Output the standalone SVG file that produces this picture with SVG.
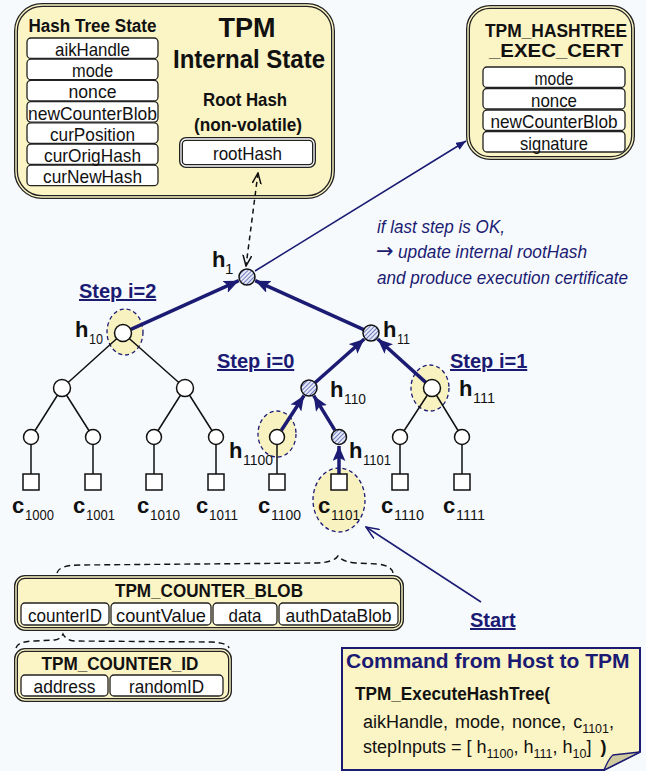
<svg xmlns="http://www.w3.org/2000/svg" width="646" height="771" viewBox="0 0 646 771">
<style>
text{font-family:"Liberation Sans",Arial,sans-serif;fill:#111}
.b{font-weight:bold}
.nav{fill:#1b1b73}
.ft{font-size:19px;text-anchor:middle}
.fld{fill:#fff;stroke:#222;stroke-width:1.3}
.yo{fill:#fbf4c4;stroke:#222;stroke-width:4}
.yi{fill:none;stroke:#fbf4c4;stroke-width:1.4}
.lbl{font-size:22px;font-weight:bold}
.sub{font-size:15px}
.node{fill:#fff;stroke:#111;stroke-width:1.5}
.hn{fill:url(#hatch);stroke:#111;stroke-width:1.5}
.thin{stroke:#111;stroke-width:1.5;fill:none}
.pth{stroke:#1b1b73;stroke-width:3.5;fill:none;marker-end:url(#ah)}
.hl{fill:#f8f1c0;stroke:#1b1b73;stroke-width:1.3;stroke-dasharray:4 3}
.step{font-size:20px;font-weight:bold;fill:#1b1b73;text-decoration:underline}
.it{font-size:18px;font-style:italic;fill:#1b1b73}
</style>
<defs>
<pattern id="hatch" patternUnits="userSpaceOnUse" width="3" height="3" patternTransform="rotate(45)">
<rect width="3" height="3" fill="#e6eaf7"/>
<line x1="0" y1="0" x2="0" y2="3" stroke="#3b4aa5" stroke-width="1.4"/>
</pattern>
<marker id="ah" viewBox="0 0 14 12" markerUnits="userSpaceOnUse" markerWidth="15" markerHeight="13" refX="14" refY="6" orient="auto">
<path d="M0,0 L14,6 L0,12 L3,6 z" fill="#1b1b73"/>
</marker>
<marker id="sa" viewBox="0 0 10 8" markerUnits="userSpaceOnUse" markerWidth="10" markerHeight="8" refX="10" refY="4" orient="auto">
<path d="M0,0 L10,4 L0,8 z" fill="#1b1b73"/>
</marker>
<marker id="ov" viewBox="0 0 12 10" markerUnits="userSpaceOnUse" markerWidth="12" markerHeight="10" refX="11" refY="5" orient="auto-start-reverse">
<path d="M0,0.5 L11,5 L0,9.5" fill="none" stroke="#111" stroke-width="1.5"/>
</marker>
<marker id="ovn" viewBox="0 0 14 12" markerUnits="userSpaceOnUse" markerWidth="14" markerHeight="12" refX="13" refY="6" orient="auto">
<path d="M0,0.5 L13,6 L0,11.5" fill="none" stroke="#1b1b73" stroke-width="1.5"/>
</marker>
</defs>
<rect width="646" height="771" fill="#f7fafc"/>

<g id="tpm-state">
<rect class="yo" x="16" y="5" width="317" height="192" rx="26"/>
<rect class="yi" x="16" y="5" width="317" height="192" rx="26"/>
<text class="b" x="92.5" y="32" font-size="17.5" text-anchor="middle" textLength="128" lengthAdjust="spacingAndGlyphs">Hash Tree State</text>
<rect class="fld" x="27" y="38" width="131" height="20.5" rx="4"/>
<rect class="fld" x="27" y="59.2" width="131" height="20.5" rx="4"/>
<rect class="fld" x="27" y="80.4" width="131" height="20.5" rx="4"/>
<rect class="fld" x="27" y="101.6" width="131" height="20.5" rx="4"/>
<rect class="fld" x="27" y="122.8" width="131" height="20.5" rx="4"/>
<rect class="fld" x="27" y="144" width="131" height="20.5" rx="4"/>
<rect class="fld" x="27" y="165.2" width="131" height="20.5" rx="4"/>
<text class="ft" x="92.5" y="56" textLength="75" lengthAdjust="spacingAndGlyphs">aikHandle</text>
<text class="ft" x="92.5" y="77.2" textLength="41" lengthAdjust="spacingAndGlyphs">mode</text>
<text class="ft" x="92.5" y="98.4" textLength="48" lengthAdjust="spacingAndGlyphs">nonce</text>
<text class="ft" x="92.5" y="119.6" textLength="129" lengthAdjust="spacingAndGlyphs">newCounterBlob</text>
<text class="ft" x="92.5" y="140.8" textLength="85" lengthAdjust="spacingAndGlyphs">curPosition</text>
<text class="ft" x="92.5" y="162" textLength="97" lengthAdjust="spacingAndGlyphs">curOrigHash</text>
<text class="ft" x="92.5" y="183.2" textLength="99" lengthAdjust="spacingAndGlyphs">curNewHash</text>
<text class="b" x="247" y="37" font-size="27" text-anchor="middle" textLength="57" lengthAdjust="spacingAndGlyphs">TPM</text>
<text class="b" x="249" y="68" font-size="26" text-anchor="middle" textLength="152" lengthAdjust="spacingAndGlyphs">Internal State</text>
<text class="b" x="245" y="106" font-size="18.5" text-anchor="middle" textLength="84" lengthAdjust="spacingAndGlyphs">Root Hash</text>
<text class="b" x="248" y="131" font-size="18.5" text-anchor="middle" textLength="108" lengthAdjust="spacingAndGlyphs">(non-volatile)</text>
<rect x="181" y="139" width="133" height="27" rx="5" fill="#fff" stroke="#222" stroke-width="4"/>
<rect x="181" y="139" width="133" height="27" rx="5" fill="none" stroke="#fff" stroke-width="1.3"/>
<text class="ft" x="247.5" y="160" textLength="69" lengthAdjust="spacingAndGlyphs">rootHash</text>
</g>

<g id="exec-cert">
<rect class="yo" x="468" y="7" width="165" height="151" rx="22"/>
<rect class="yi" x="468" y="7" width="165" height="151" rx="22"/>
<text class="b" x="556" y="37" font-size="19" text-anchor="middle" textLength="142" lengthAdjust="spacingAndGlyphs">TPM_HASHTREE</text>
<text class="b" x="556" y="57" font-size="19" text-anchor="middle" textLength="134" lengthAdjust="spacingAndGlyphs">_EXEC_CERT</text>
<rect class="fld" x="483" y="67" width="142" height="20.5" rx="4"/>
<rect class="fld" x="483" y="88.5" width="142" height="20.5" rx="4"/>
<rect class="fld" x="483" y="110" width="142" height="20.5" rx="4"/>
<rect class="fld" x="483" y="131.5" width="142" height="20.5" rx="4"/>
<text class="ft" x="554" y="85" textLength="39" lengthAdjust="spacingAndGlyphs">mode</text>
<text class="ft" x="554" y="106.5" textLength="46" lengthAdjust="spacingAndGlyphs">nonce</text>
<text class="ft" x="554" y="128" textLength="127" lengthAdjust="spacingAndGlyphs">newCounterBlob</text>
<text class="ft" x="554" y="149.5" textLength="68" lengthAdjust="spacingAndGlyphs">signature</text>
</g>

<g id="highlights">
<ellipse class="hl" cx="125" cy="332" rx="18" ry="23"/>
<ellipse class="hl" cx="430" cy="388" rx="19" ry="23"/>
<ellipse class="hl" cx="277" cy="434" rx="19" ry="23"/>
<ellipse class="hl" cx="339" cy="500" rx="26" ry="32"/>
</g>

<g id="connectors">
<line x1="258" y1="173" x2="246" y2="266" stroke="#111" stroke-width="1.5" stroke-dasharray="5 4" marker-start="url(#ov)" marker-end="url(#ov)"/>
<line x1="255" y1="271" x2="466" y2="141" stroke="#1b1b73" stroke-width="1.5" marker-end="url(#sa)"/>
<line x1="481" y1="602" x2="366" y2="527" stroke="#1b1b73" stroke-width="1.5" marker-end="url(#ovn)"/>
<path class="thin" d="M123,333 L62,388 M123,333 L185,388 M62,388 L31,437 M62,388 L93,437 M185,388 L154,437 M185,388 L216,437 M432,388 L400,437 M432,388 L462,437"/>
<path class="thin" d="M31,437 V474 M93,437 V474 M154,437 V474 M216,437 V474 M277,437 V474 M400,437 V474 M462,437 V474"/>
<line class="pth" x1="130.3" y1="329.7" x2="238.8" y2="280.7"/>
<line class="pth" x1="363.7" y1="329.7" x2="255.2" y2="280.7"/>
<line class="pth" x1="315" y1="382.7" x2="364.3" y2="339"/>
<line class="pth" x1="426" y1="382.6" x2="377.7" y2="339"/>
<line class="pth" x1="281.4" y1="430.3" x2="304.1" y2="395.5"/>
<line class="pth" x1="334.8" y1="430.2" x2="313.7" y2="395.7"/>
<line class="pth" x1="339" y1="474" x2="339" y2="446"/>
<path d="M57,573 Q59,565 80,565 L318,563 Q334,562 338,556 Q343,562 356,563 L378,564 Q392,566 393,573" fill="none" stroke="#111" stroke-width="1.4" stroke-dasharray="6 4"/>
<path d="M16,648 Q18,641 35,641 L55,640 Q61,639 63,634 Q66,640 74,641 L212,642 Q228,643 229,648" fill="none" stroke="#111" stroke-width="1.4" stroke-dasharray="6 4"/>
</g>

<g id="tree-nodes">
<circle id="n-h1" class="hn" cx="247" cy="277" r="8"/>
<circle id="n-h10" class="node" cx="123" cy="333" r="8.5"/>
<circle id="n-h11" class="hn" cx="371" cy="333" r="8"/>
<circle id="n-h100" class="node" cx="62" cy="388" r="8.5"/>
<circle id="n-h101" class="node" cx="185" cy="388" r="8.5"/>
<circle id="n-h110" class="hn" cx="309" cy="388" r="8"/>
<circle id="n-h111" class="node" cx="432" cy="388" r="8.5"/>
<circle id="n-h1000" class="node" cx="31" cy="437" r="7.5"/>
<circle id="n-h1001" class="node" cx="93" cy="437" r="7.5"/>
<circle id="n-h1010" class="node" cx="154" cy="437" r="7.5"/>
<circle id="n-h1011" class="node" cx="216" cy="437" r="7.5"/>
<circle id="n-h1100" class="node" cx="277" cy="437" r="7.5"/>
<circle id="n-h1101" class="hn" cx="339" cy="437" r="7.5"/>
<circle id="n-h1110" class="node" cx="400" cy="437" r="7.5"/>
<circle id="n-h1111" class="node" cx="462" cy="437" r="7.5"/>
<rect id="n-c1000" class="node" x="23" y="474" width="16" height="16"/>
<rect id="n-c1001" class="node" x="85" y="474" width="16" height="16"/>
<rect id="n-c1010" class="node" x="146" y="474" width="16" height="16"/>
<rect id="n-c1011" class="node" x="208" y="474" width="16" height="16"/>
<rect id="n-c1100" class="node" x="269" y="474" width="16" height="16"/>
<rect id="n-c1101" class="node" x="331" y="474" width="16" height="16"/>
<rect id="n-c1110" class="node" x="392" y="474" width="16" height="16"/>
<rect id="n-c1111" class="node" x="454" y="474" width="16" height="16"/>
</g>

<g id="labels">
<text class="lbl" x="212" y="267">h</text><text class="sub" x="225" y="274">1</text>
<text class="lbl" x="75" y="337">h</text><text class="sub" x="89" y="344" textLength="14" lengthAdjust="spacingAndGlyphs">10</text>
<text class="lbl" x="383" y="337">h</text><text class="sub" x="397" y="344" textLength="13" lengthAdjust="spacingAndGlyphs">11</text>
<text class="lbl" x="330" y="397">h</text><text class="sub" x="344" y="404" textLength="22" lengthAdjust="spacingAndGlyphs">110</text>
<text class="lbl" x="459" y="396">h</text><text class="sub" x="473" y="403" textLength="22" lengthAdjust="spacingAndGlyphs">111</text>
<text class="lbl" x="229" y="458">h</text><text class="sub" x="243" y="465" textLength="30" lengthAdjust="spacingAndGlyphs">1100</text>
<text class="lbl" x="349" y="458">h</text><text class="sub" x="363" y="465" textLength="28" lengthAdjust="spacingAndGlyphs">1101</text>
<text class="lbl" x="12" y="513">c</text><text class="sub" x="25" y="520" textLength="29" lengthAdjust="spacingAndGlyphs">1000</text>
<text class="lbl" x="73" y="513">c</text><text class="sub" x="86" y="520" textLength="29" lengthAdjust="spacingAndGlyphs">1001</text>
<text class="lbl" x="137" y="513">c</text><text class="sub" x="150" y="520" textLength="30" lengthAdjust="spacingAndGlyphs">1010</text>
<text class="lbl" x="196" y="513">c</text><text class="sub" x="209" y="520" textLength="29" lengthAdjust="spacingAndGlyphs">1011</text>
<text class="lbl" x="258" y="513">c</text><text class="sub" x="271" y="520" textLength="30" lengthAdjust="spacingAndGlyphs">1100</text>
<text class="lbl" x="318" y="513">c</text><text class="sub" x="331" y="520" textLength="29" lengthAdjust="spacingAndGlyphs">1101</text>
<text class="lbl" x="381" y="513">c</text><text class="sub" x="394" y="520" textLength="30" lengthAdjust="spacingAndGlyphs">1110</text>
<text class="lbl" x="443" y="513">c</text><text class="sub" x="456" y="520" textLength="29" lengthAdjust="spacingAndGlyphs">1111</text>
<text class="step" x="79" y="298">Step i=2</text>
<text class="step" x="217" y="368">Step i=0</text>
<text class="step" x="450" y="368">Step i=1</text>
<text class="step" x="470" y="627" font-size="21">Start</text>
<text class="it" x="377" y="233" textLength="128" lengthAdjust="spacingAndGlyphs">if last step is OK,</text>
<text x="376" y="258" font-family="DejaVu Sans" font-size="21" fill="#1b1b73" style="fill:#1b1b73;font-family:'DejaVu Sans',sans-serif">→</text>
<text class="it" x="398" y="258" textLength="189" lengthAdjust="spacingAndGlyphs">update internal rootHash</text>
<text class="it" x="377" y="284" textLength="251" lengthAdjust="spacingAndGlyphs">and produce execution certificate</text>
</g>

<g id="counter-blob">
<rect class="yo" x="16" y="577" width="386" height="52" rx="9"/>
<rect class="yi" x="16" y="577" width="386" height="52" rx="9"/>
<text class="b" x="209" y="597" font-size="18.5" text-anchor="middle" textLength="188" lengthAdjust="spacingAndGlyphs">TPM_COUNTER_BLOB</text>
<rect class="fld" x="21" y="603" width="88" height="22" rx="4"/>
<rect class="fld" x="111" y="603" width="100" height="22" rx="4"/>
<rect class="fld" x="213" y="603" width="64" height="22" rx="4"/>
<rect class="fld" x="279" y="603" width="119" height="22" rx="4"/>
<text class="ft" x="65" y="621.5" textLength="74" lengthAdjust="spacingAndGlyphs">counterID</text>
<text class="ft" x="161" y="621.5" textLength="90" lengthAdjust="spacingAndGlyphs">countValue</text>
<text class="ft" x="245" y="621.5" textLength="33" lengthAdjust="spacingAndGlyphs">data</text>
<text class="ft" x="338.5" y="621.5" textLength="106" lengthAdjust="spacingAndGlyphs">authDataBlob</text>
</g>

<g id="counter-id">
<rect class="yo" x="16" y="650" width="214" height="50" rx="9"/>
<rect class="yi" x="16" y="650" width="214" height="50" rx="9"/>
<text class="b" x="120" y="670" font-size="18.5" text-anchor="middle" textLength="157" lengthAdjust="spacingAndGlyphs">TPM_COUNTER_ID</text>
<rect class="fld" x="21" y="675" width="87" height="21" rx="4"/>
<rect class="fld" x="110" y="675" width="113" height="21" rx="4"/>
<text class="ft" x="64.5" y="693" textLength="62" lengthAdjust="spacingAndGlyphs">address</text>
<text class="ft" x="166.5" y="693" textLength="75" lengthAdjust="spacingAndGlyphs">randomID</text>
</g>

<g id="command">
<path d="M342,648 H640 V752 L604,770 H342 Z" fill="#fbf4c4" stroke="#1b1b73" stroke-width="2"/>
<path d="M604,770 Q609,758 613,755 L640,752 Z" fill="#cfc9a0" stroke="#1b1b73" stroke-width="1.3"/>
<text class="b nav" x="346" y="668" font-size="21">Command from Host to TPM</text>
<text class="b" x="355" y="700" font-size="18" textLength="195" lengthAdjust="spacingAndGlyphs">TPM_ExecuteHashTree(</text>
<text x="363" y="728" font-size="18" word-spacing="2">aikHandle, mode, nonce, c<tspan font-size="12.5" dy="5">1101</tspan><tspan dy="-5">,</tspan></text>
<text x="363" y="753" font-size="18">stepInputs = [ h<tspan font-size="12.5" dy="5">1100</tspan><tspan dy="-5">, h</tspan><tspan font-size="12.5" dy="5">111</tspan><tspan dy="-5">, h</tspan><tspan font-size="12.5" dy="5">10</tspan><tspan dy="-5">]  </tspan><tspan font-weight="bold" font-size="18" dx="4">)</tspan></text>
</g>
</svg>
